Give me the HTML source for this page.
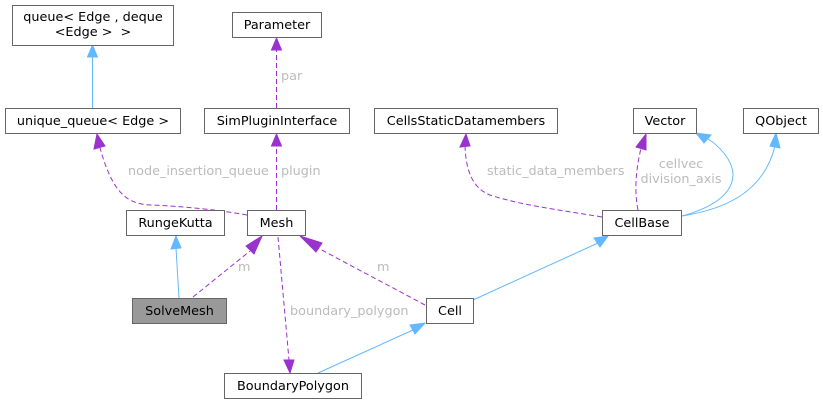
<!DOCTYPE html>
<html><head><meta charset="utf-8"><style>
html,body{margin:0;padding:0;background:#fff;width:823px;height:404px;overflow:hidden}
svg text{font-family:"DejaVu Sans","Liberation Sans",sans-serif;font-size:12.8px}
.n rect{fill:#fff;stroke:#666;stroke-width:1}
.n text{fill:#000;text-anchor:middle}
.l{fill:#bbb}
.b{fill:none;stroke:#63b8ff;stroke-width:1}
.p{fill:none;stroke:#9a32cd;stroke-width:1;stroke-dasharray:5,3}
.ba{fill:#63b8ff;stroke:#63b8ff}
.pa{fill:#9a32cd;stroke:#9a32cd}
</style></head><body>
<svg width="823" height="404" viewBox="0 0 823 404" xmlns="http://www.w3.org/2000/svg">
<path class="b" d="M92.5 108 V56"/><polygon class="ba" points="87.5,57 92.5,45 97.5,57"/>
<path class="p" d="M276.5 108 V50"/><polygon class="pa" points="271.5,50 276.5,38 281.5,50"/>
<path class="p" d="M247 215 C220 210 180 206 150 205 C125 204 112 190 100 148"/><polygon class="pa" points="94,149 97,134 105,146"/>
<path class="p" d="M276.5 210 V146"/><polygon class="pa" points="271.5,146 276.5,134 281.5,146"/>
<path class="b" d="M179 298 L176 248"/><polygon class="ba" points="171,249 176,236 181,248"/>
<path class="p" d="M193 297 L250 251"/><polygon class="pa" points="246,246 262,236 254,254"/>
<path class="p" d="M425 305 L318 248"/><polygon class="pa" points="322,243 300,236 316,252"/>
<path class="p" d="M278 237 L289 360"/><polygon class="pa" points="284,360 290,373 294,360"/>
<path class="b" d="M318 373 L413 330"/><polygon class="ba" points="410,325 425,323 415,334"/>
<path class="b" d="M473 300 L598 243"/><polygon class="ba" points="594,238 608,236 600,247"/>
<path class="p" d="M602 217 C560 210 520 205 490 195 C472 188 466 170 465 146"/><polygon class="pa" points="460,147 466,134 470,146"/>
<path class="p" d="M638 210 C634 190 636 170 641 148"/><polygon class="pa" points="636,147 646,134 646,150"/>
<path class="b" d="M682 216 C700 211 732 200 733 175 C733 160 718 145 708 139"/><polygon class="ba" points="704,143 696,133 711,135"/>
<path class="b" d="M682 216 C720 210 763 195 775 146"/><polygon class="ba" points="770,146 776,133 780,148"/>
<text class="l" x="128" y="175">node_insertion_queue</text>
<text class="l" x="281" y="175">plugin</text>
<text class="l" x="281" y="80">par</text>
<text class="l" x="238" y="271">m</text>
<text class="l" x="377" y="271">m</text>
<text class="l" x="290" y="315">boundary_polygon</text>
<text class="l" x="487" y="175">static_data_members</text>
<text class="l" x="681" y="168" text-anchor="middle">cellvec</text>
<text class="l" x="681" y="183" text-anchor="middle">division_axis</text>
<g class="n">
<rect x="12.5" y="5.5" width="161" height="40"/><text x="93" y="21">queue&lt; Edge , deque</text><text x="93" y="36" xml:space="preserve">&lt;Edge &gt;&#160; &gt;</text>
<rect x="232.5" y="12.5" width="89" height="25"/><text x="277" y="29">Parameter</text>
<rect x="5.5" y="108.5" width="175" height="25"/><text x="93" y="125">unique_queue&lt; Edge &gt;</text>
<rect x="204.5" y="108.5" width="145" height="25"/><text x="277" y="125">SimPluginInterface</text>
<rect x="374.5" y="108.5" width="183" height="25"/><text x="466" y="125">CellsStaticDatamembers</text>
<rect x="633.5" y="108.5" width="63" height="25"/><text x="665" y="125">Vector</text>
<rect x="743.5" y="108.5" width="75" height="25"/><text x="781" y="125">QObject</text>
<rect x="126.5" y="210.5" width="98" height="25"/><text x="175.5" y="227">RungeKutta</text>
<rect x="247.5" y="210.5" width="58" height="25"/><text x="276.5" y="227">Mesh</text>
<rect x="602.5" y="210.5" width="79" height="25"/><text x="642" y="227">CellBase</text>
<rect x="132.5" y="298.5" width="94" height="25" style="fill:#999"/><text x="179.5" y="315">SolveMesh</text>
<rect x="426.5" y="298.5" width="47" height="25"/><text x="450" y="315">Cell</text>
<rect x="224.5" y="373.5" width="137" height="25"/><text x="293" y="390">BoundaryPolygon</text>
</g>
</svg>
</body></html>
